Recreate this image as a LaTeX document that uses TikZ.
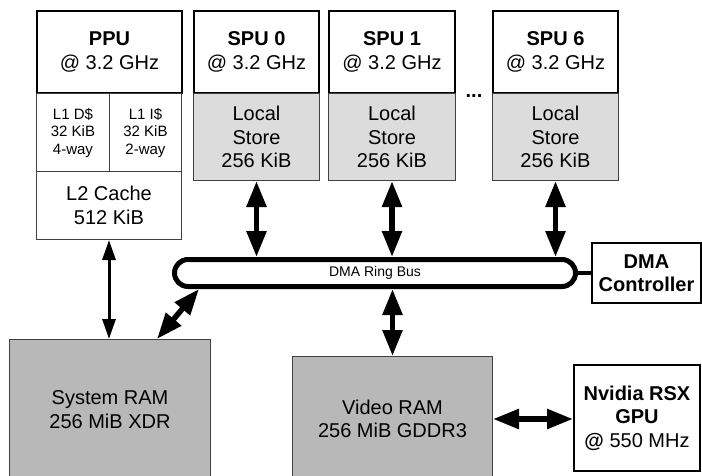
\documentclass[tikz,border=0pt]{standalone}
\usepackage{fontspec}
\setmainfont{Liberation Sans}
\usepackage{xcolor}
\definecolor{cLine}{HTML}{000000}
\definecolor{cSub}{HTML}{404040}
\definecolor{cStore}{HTML}{DCDCDC}
\definecolor{cRam}{HTML}{B8B8B8}
\usepackage{tikz}
\usetikzlibrary{positioning,arrows.meta,calc}
\tikzset{
  node-core/.style={draw=cLine,line width=2pt,fill=white,inner sep=0pt,
    align=center,font=\fontsize{20}{23.5}\selectfont},
  node-sub/.style={draw=cSub,line width=1pt,fill=white,inner sep=0pt,
    align=center,font=\fontsize{20}{23.5}\selectfont},
  node-small/.style={node-sub,font=\fontsize{15}{17.5}\selectfont},
  node-store/.style={node-sub,fill=cStore},
  node-ram/.style={node-sub,fill=cRam},
  node-bus/.style={draw=cLine,line width=5pt,rounded corners=13.5pt,
    minimum width=401pt,minimum height=27pt,inner sep=0pt,
    font=\fontsize{14}{16}\selectfont},
  arrow-both/.style={{Triangle[length=26pt,width=19pt]}-{Triangle[length=26pt,width=19pt]},
    line width=5.5pt,draw=cLine},
  arrow-thin/.style={{Triangle[length=20pt,width=13pt]}-{Triangle[length=20pt,width=13pt]},
    line width=3pt,draw=cLine},
  link/.style={line width=4pt,draw=cLine},
}

\begin{document}
\begin{tikzpicture}[x=1pt,y=-1pt]
  \clip (0,0) rectangle (702,475);
  % cores
  \node[node-core,anchor=north west,minimum width=145pt,minimum height=82pt] (ppu) at (36,10)
    {\textbf{PPU}\\@ 3.2 GHz};
  \node[node-core,right=10pt of ppu,minimum width=125pt,minimum height=82pt] (spu0)
    {\textbf{SPU 0}\\@ 3.2 GHz};
  \node[node-core,right=8pt of spu0,minimum width=126pt,minimum height=82pt] (spu1)
    {\textbf{SPU 1}\\@ 3.2 GHz};
  \node[node-core,right=36pt of spu1,minimum width=125pt,minimum height=82pt] (spu6)
    {\textbf{SPU 6}\\@ 3.2 GHz};
  \node[font=\fontsize{20}{23.5}\selectfont\bfseries,anchor=base] (dots) at (474,97) {...};
  % caches and local stores
  \node[node-small,anchor=north west,yshift=1pt,minimum width=73pt,minimum height=78pt] (l1d)
    at (ppu.south west) {L1 D\$\\32 KiB\\4-way};
  \node[node-small,right=-1pt of l1d,minimum width=72pt,minimum height=78pt] (l1i)
    {L1 I\$\\32 KiB\\2-way};
  \node[node-sub,anchor=north west,yshift=1pt,minimum width=145pt,minimum height=68pt] (l2)
    at (l1d.south west) {L2 Cache\\512 KiB};
  \node[node-store,below=-1pt of spu0,minimum width=126pt,minimum height=87pt] (ls0)
    {Local\\Store\\256 KiB};
  \node[node-store,below=-1pt of spu1,minimum width=127pt,minimum height=87pt] (ls1)
    {Local\\Store\\256 KiB};
  \node[node-store,below=-1pt of spu6,minimum width=126pt,minimum height=87pt] (ls6)
    {Local\\Store\\256 KiB};
  % bus and memories
  \node[node-bus] (bus) at (375,273) {DMA Ring Bus};
  \node[node-core,anchor=north west,minimum width=109pt,minimum height=60pt] (dma) at (591,242)
    {\textbf{DMA}\\\textbf{Controller}};
  \node[node-ram,anchor=north west,minimum width=201pt,minimum height=140pt] (sysram) at (9,339)
    {System RAM\\256 MiB XDR};
  \node[node-ram,anchor=north west,minimum width=200pt,minimum height=125pt] (vram) at (292,356)
    {Video RAM\\256 MiB GDDR3};
  \node[node-core,anchor=north west,minimum width=126pt,minimum height=106pt] (gpu) at (573,364)
    {\textbf{Nvidia RSX}\\\textbf{GPU}\\\textbf{@} 550 MHz};
  % connections
  \coordinate (ppuport) at (l2.south -| l1i.west);
  \coordinate (busport) at ($(bus.south west)+(27,0)$);
  \coordinate (ramport) at ($(sysram.north west)+(148,0)$);
  \draw[link] (bus.east) -- (dma.west);
  \draw[arrow-both] (ls0.south) -- (ls0.south |- bus.north);
  \draw[arrow-both] (ls1.south) -- (ls1.south |- bus.north);
  \draw[arrow-both] (ls6.south) -- (ls6.south |- bus.north);
  \draw[arrow-both] (vram.north |- bus.south) -- (vram.north);
  \draw[arrow-both] (vram.east) -- (vram.east -| gpu.west);
  \draw[arrow-thin] (ppuport) -- (ppuport |- sysram.north);
  \draw[arrow-both] (busport) -- (ramport);
\end{tikzpicture}
\end{document}
